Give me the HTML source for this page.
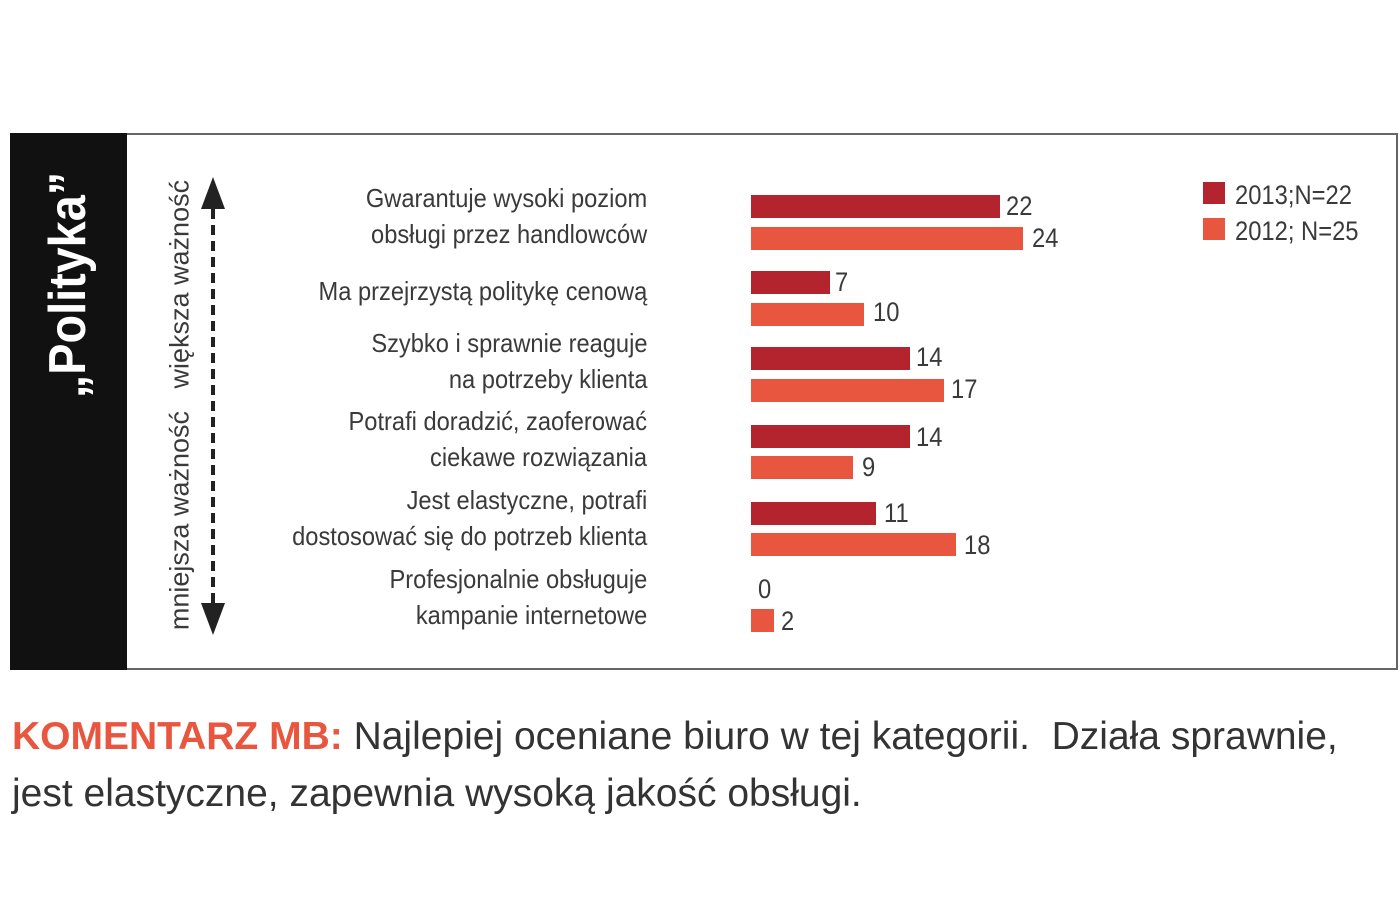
<!DOCTYPE html>
<html><head><meta charset="utf-8"><style>
body{margin:0;width:1400px;height:900px;background:#fff;position:relative;overflow:hidden;font-family:"Liberation Sans",sans-serif;color:#3a3a3a}
.box{position:absolute;left:10px;top:133px;width:1388px;height:537px;border:2px solid #666;box-sizing:border-box}
.side{position:absolute;left:10px;top:133px;width:117px;height:537px;background:#111}
.ab{position:absolute}
.lbl{position:absolute;right:753px;text-align:right;font-size:26px;line-height:36px;white-space:nowrap;transform:scaleX(0.91);transform-origin:right center}
.d{position:absolute;left:751px;height:23px;background:#b3242f}
.l{position:absolute;left:751px;height:23px;background:#e8563f}
.v{position:absolute;font-size:27px;line-height:30px;transform:scaleX(0.88);transform-origin:left center}
</style></head><body>
<div class="box"></div>
<div class="side"></div>
<div class="ab" style="left:68px;top:285px;transform:translate(-50%,-50%) rotate(-90deg) scaleX(0.9);color:#fff;font-weight:bold;font-size:52px;white-space:nowrap">„Polityka”</div>
<div class="ab" style="left:180px;top:405px;transform:translate(-50%,-50%) rotate(-90deg);font-size:27px;white-space:nowrap">mniejsza ważność&nbsp;&nbsp;&nbsp;większa ważność</div>
<svg class="ab" style="left:195px;top:175px" width="36" height="462">
<polygon points="18,2 6,34 30,34" fill="#222"/>
<line x1="18" y1="34" x2="18" y2="428" stroke="#222" stroke-width="4" stroke-dasharray="10,6"/>
<polygon points="18,460 6,428 30,428" fill="#222"/>
</svg>
<div class="lbl" style="top:180px">Gwarantuje wysoki poziom<br>obsługi przez handlowców</div>
<div class="lbl" style="top:273px">Ma przejrzystą politykę cenową</div>
<div class="lbl" style="top:325px">Szybko i sprawnie reaguje<br>na potrzeby klienta</div>
<div class="lbl" style="top:403px">Potrafi doradzić, zaoferować<br>ciekawe rozwiązania</div>
<div class="lbl" style="top:482px">Jest elastyczne, potrafi<br>dostosować się do potrzeb klienta</div>
<div class="lbl" style="top:561px">Profesjonalnie obsługuje<br>kampanie internetowe</div>
<div class="d" style="top:195px;width:249px"></div><div class="v" style="left:1006px;top:191px">22</div>
<div class="l" style="top:227px;width:272px"></div><div class="v" style="left:1032px;top:223px">24</div>
<div class="d" style="top:271px;width:79px"></div><div class="v" style="left:835px;top:267px">7</div>
<div class="l" style="top:303px;width:113px"></div><div class="v" style="left:873px;top:297px">10</div>
<div class="d" style="top:347px;width:159px"></div><div class="v" style="left:916px;top:342px">14</div>
<div class="l" style="top:379px;width:193px"></div><div class="v" style="left:951px;top:374px">17</div>
<div class="d" style="top:425px;width:159px"></div><div class="v" style="left:916px;top:422px">14</div>
<div class="l" style="top:456px;width:102px"></div><div class="v" style="left:862px;top:452px">9</div>
<div class="d" style="top:502px;width:125px"></div><div class="v" style="left:884px;top:498px">11</div>
<div class="l" style="top:533px;width:205px"></div><div class="v" style="left:964px;top:530px">18</div>
<div class="v" style="left:758px;top:574px">0</div>
<div class="l" style="top:609px;width:23px"></div><div class="v" style="left:781px;top:606px">2</div>
<div class="ab" style="left:1203px;top:182px;width:22px;height:22px;background:#b3242f"></div>
<div class="ab" style="left:1203px;top:218px;width:22px;height:22px;background:#e8563f"></div>
<div class="v" style="left:1235px;top:180px">2013;N=22</div>
<div class="v" style="left:1235px;top:216px">2012; N=25</div>
<div class="ab" style="left:12px;top:708px;font-size:39px;line-height:57px;white-space:nowrap;color:#333"><b style="color:#e8563f">KOMENTARZ MB:</b> Najlepiej oceniane biuro w tej kategorii.&nbsp; Działa sprawnie,<br>jest elastyczne, zapewnia wysoką jakość obsługi.</div>
</body></html>
